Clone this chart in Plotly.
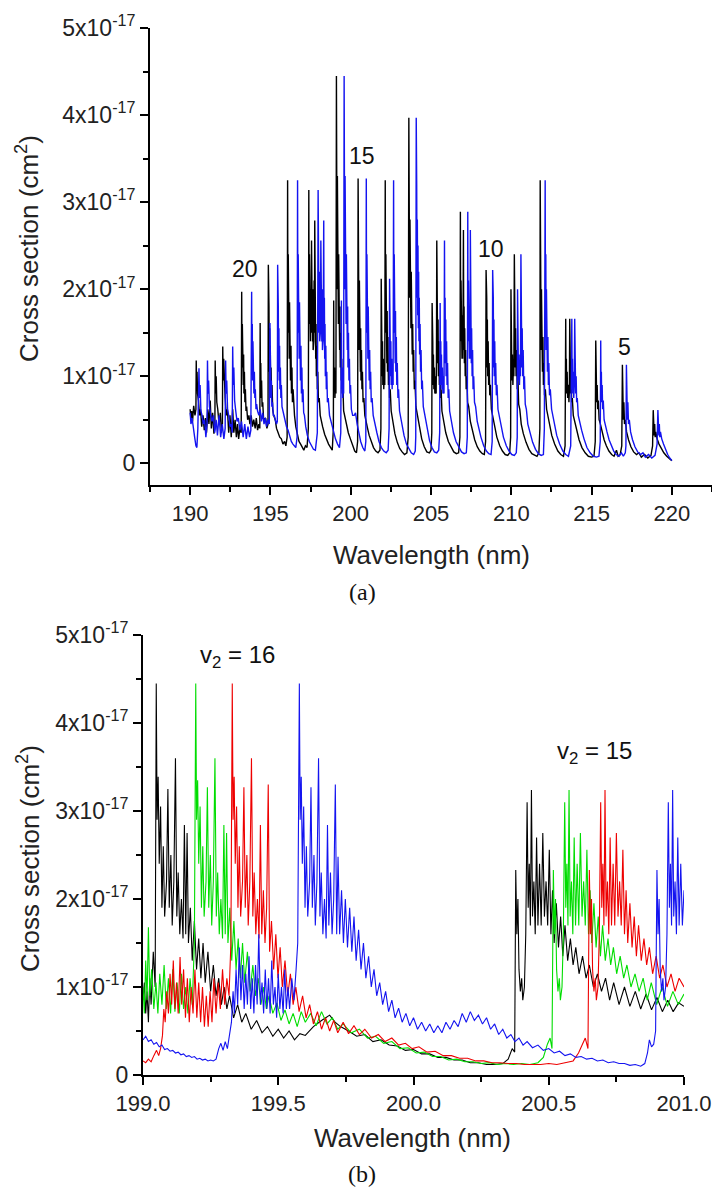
import plotly.graph_objects as go

# ---------------- data (cross section in units of 1e-17 cm^2) ----------------
UNIT = 1e-17

# Panel (a): black spectrum, (wavelength nm, cross section)
A_BLACK = [
    (190.00, 0.62), (190.05, 0.50), (190.10, 0.60), (190.15, 0.48), (190.22, 0.66), (190.30, 0.55),
    (190.36, 0.62), (190.38, 1.18), (190.40, 0.85), (190.43, 1.05), (190.46, 0.80), (190.52, 0.72),
    (190.58, 0.55), (190.65, 0.62), (190.72, 0.42), (190.80, 0.55), (190.88, 0.38), (190.95, 0.52),
    (191.02, 0.35), (191.10, 0.62), (191.17, 0.45), (191.25, 0.72), (191.32, 0.40), (191.40, 0.58),
    (191.48, 0.34), (191.54, 0.40), (191.56, 1.18), (191.59, 0.80), (191.62, 1.00), (191.66, 0.70),
    (191.72, 0.62), (191.80, 0.45), (191.88, 0.58), (191.95, 0.35), (192.01, 0.45), (192.03, 1.34),
    (192.06, 0.95), (192.09, 1.20), (192.13, 0.80), (192.18, 0.75), (192.25, 0.55), (192.32, 0.62),
    (192.40, 0.35), (192.48, 0.55), (192.56, 0.30), (192.65, 0.62), (192.72, 0.35), (192.80, 0.50),
    (192.88, 0.30), (192.95, 0.45), (193.02, 0.28), (193.10, 0.40), (193.18, 0.35),
    (193.21, 1.97), (193.23, 1.10), (193.25, 1.60), (193.27, 0.95), (193.29, 1.40), (193.31, 0.90),
    (193.33, 1.25), (193.35, 0.80), (193.38, 1.05), (193.41, 0.70), (193.44, 0.85), (193.48, 0.60),
    (193.52, 0.65), (193.58, 0.50), (193.66, 0.55), (193.72, 0.45), (193.80, 0.55), (193.88, 0.42),
    (193.96, 0.50), (194.05, 0.40), (194.12, 0.52), (194.20, 0.38), (194.28, 0.45), (194.34, 0.40),
    (194.36, 1.61), (194.38, 0.85), (194.40, 1.15), (194.42, 0.75), (194.45, 0.95), (194.48, 0.65),
    (194.52, 0.70), (194.57, 0.52), (194.62, 0.50), (194.70, 0.52), (194.78, 0.40), (194.85, 0.45),
    (194.87, 2.28), (194.89, 1.20), (194.91, 1.80), (194.93, 1.05), (194.95, 1.55), (194.97, 0.95),
    (194.99, 1.35), (195.01, 0.85), (195.04, 1.10), (195.07, 0.75), (195.10, 0.90), (195.14, 0.62),
    (195.20, 0.55), (195.30, 0.50), (195.38, 0.40), (195.48, 0.35), (195.58, 0.30), (195.68, 0.28),
    (195.78, 0.22), (195.88, 0.25), (195.96, 0.20), (196.04, 0.30),
    (196.07, 3.25), (196.09, 1.50), (196.11, 2.40), (196.13, 1.30), (196.15, 2.10), (196.17, 1.20),
    (196.19, 1.85), (196.21, 1.05), (196.23, 1.60), (196.25, 0.95), (196.28, 1.35), (196.31, 0.80),
    (196.34, 1.10), (196.37, 0.70), (196.41, 0.85), (196.45, 0.58), (196.50, 0.55), (196.58, 0.42),
    (196.68, 0.32), (196.78, 0.25), (196.88, 0.22), (196.98, 0.18), (197.08, 0.15), (197.18, 0.20),
    (197.28, 0.18), (197.36, 0.40),
    (197.39, 3.14), (197.41, 1.60), (197.43, 2.40), (197.45, 1.50), (197.47, 2.20), (197.49, 1.40),
    (197.51, 2.00), (197.53, 1.50), (197.56, 2.56), (197.58, 1.50), (197.60, 2.20), (197.62, 1.40),
    (197.64, 2.00), (197.66, 1.30), (197.68, 1.90), (197.70, 1.40), (197.72, 2.10), (197.74, 1.50),
    (197.76, 2.79), (197.78, 1.40), (197.80, 1.90), (197.82, 1.20), (197.84, 1.60), (197.86, 1.00),
    (197.89, 1.35), (197.92, 0.85), (197.95, 1.05), (197.99, 0.70), (198.04, 0.75), (198.10, 0.55),
    (198.15, 0.50), (198.25, 0.42), (198.38, 0.33), (198.50, 0.27), (198.62, 0.22), (198.75, 0.18),
    (198.85, 0.15), (198.92, 0.40),
    (198.94, 1.87), (198.96, 0.85), (198.99, 1.10), (199.02, 0.75), (199.05, 1.00), (199.08, 0.80),
    (199.11, 4.45), (199.12, 2.60), (199.13, 3.60), (199.15, 2.00), (199.17, 3.30), (199.19, 1.80),
    (199.21, 2.70), (199.23, 1.60), (199.25, 2.40), (199.27, 1.40), (199.29, 2.10), (199.31, 1.30),
    (199.33, 1.80), (199.35, 1.10), (199.38, 1.50), (199.41, 0.95), (199.44, 1.20), (199.47, 0.80),
    (199.51, 0.90), (199.56, 0.60), (199.62, 0.55), (199.72, 0.45), (199.85, 0.35), (199.98, 0.28),
    (200.12, 0.20), (200.25, 0.14), (200.36, 0.12), (200.43, 0.25),
    (200.46, 3.27), (200.48, 1.50), (200.50, 2.40), (200.52, 1.30), (200.54, 2.10), (200.56, 1.20),
    (200.58, 1.80), (200.60, 1.05), (200.62, 1.55), (200.64, 0.95), (200.67, 1.30), (200.70, 0.85),
    (200.73, 1.05), (200.77, 0.70), (200.82, 0.75), (200.88, 0.55), (200.95, 0.50), (201.05, 0.40),
    (201.15, 0.32), (201.28, 0.24), (201.42, 0.18), (201.56, 0.14), (201.70, 0.12), (201.82, 0.15),
    (201.88, 0.40),
    (201.90, 2.12), (201.92, 1.10), (201.94, 1.60), (201.96, 1.00), (201.98, 1.40), (202.00, 0.90),
    (202.03, 1.20), (202.06, 0.85), (202.09, 1.10), (202.12, 0.90), (202.15, 3.25), (202.17, 1.50),
    (202.19, 2.40), (202.21, 1.30), (202.23, 2.00), (202.25, 1.15), (202.27, 1.75), (202.29, 1.05),
    (202.32, 1.45), (202.35, 0.90), (202.38, 1.15), (202.42, 0.75), (202.46, 0.85), (202.52, 0.60),
    (202.62, 0.46), (202.75, 0.34), (202.90, 0.24), (203.05, 0.17), (203.20, 0.13), (203.35, 0.10),
    (203.50, 0.12), (203.58, 0.30),
    (203.62, 3.97), (203.63, 2.20), (203.65, 3.20), (203.67, 1.90), (203.69, 2.80), (203.71, 1.70),
    (203.73, 2.50), (203.75, 1.55), (203.77, 2.20), (203.79, 1.40), (203.81, 1.90), (203.83, 1.25),
    (203.86, 1.60), (203.89, 1.05), (203.92, 1.30), (203.96, 0.85), (204.00, 0.95), (204.06, 0.65),
    (204.15, 0.55), (204.28, 0.40), (204.42, 0.28), (204.58, 0.19), (204.74, 0.13), (204.90, 0.12),
    (205.00, 0.15), (205.05, 0.35),
    (205.07, 1.84), (205.09, 0.95), (205.11, 1.40), (205.13, 0.90), (205.15, 1.25), (205.18, 0.85),
    (205.21, 1.10), (205.24, 0.80), (205.28, 1.00), (205.32, 0.80), (205.34, 1.20), (205.36, 2.56),
    (205.38, 1.30), (205.40, 1.90), (205.42, 1.15), (205.44, 1.65), (205.46, 1.00), (205.49, 1.40),
    (205.52, 0.90), (205.55, 1.15), (205.59, 0.75), (205.63, 0.85), (205.68, 0.60), (205.78, 0.50),
    (205.92, 0.35), (206.08, 0.25), (206.25, 0.18), (206.42, 0.13), (206.58, 0.11), (206.72, 0.12),
    (206.80, 0.30),
    (206.83, 2.89), (206.85, 1.40), (206.87, 2.10), (206.89, 1.30), (206.91, 1.90), (206.93, 1.20),
    (206.95, 1.70), (206.97, 1.20), (207.00, 1.80), (207.02, 2.68), (207.04, 1.30), (207.06, 1.80),
    (207.08, 1.15), (207.10, 1.55), (207.13, 1.00), (207.16, 1.30), (207.19, 0.85), (207.23, 1.00),
    (207.28, 0.70), (207.35, 0.65), (207.45, 0.48), (207.58, 0.36), (207.72, 0.27), (207.88, 0.19),
    (208.04, 0.14), (208.20, 0.11), (208.32, 0.10), (208.40, 0.25),
    (208.43, 2.22), (208.45, 1.20), (208.47, 1.90), (208.49, 1.10), (208.51, 1.65), (208.53, 1.00),
    (208.56, 1.40), (208.59, 0.90), (208.62, 1.15), (208.66, 0.78), (208.70, 0.90), (208.76, 0.62),
    (208.84, 0.55), (208.95, 0.42), (209.10, 0.30), (209.28, 0.20), (209.45, 0.14), (209.62, 0.10),
    (209.78, 0.09), (209.90, 0.12), (209.96, 0.30),
    (209.98, 2.00), (210.00, 1.00), (210.02, 1.45), (210.04, 0.95), (210.07, 1.25), (210.10, 0.90),
    (210.13, 1.10), (210.16, 1.00), (210.19, 2.40), (210.21, 1.20), (210.23, 1.80), (210.25, 1.10),
    (210.27, 1.55), (210.30, 1.00), (210.33, 1.30), (210.37, 0.85), (210.41, 1.00), (210.46, 0.68),
    (210.53, 0.62), (210.62, 0.45), (210.75, 0.34), (210.92, 0.24), (211.10, 0.16), (211.28, 0.11),
    (211.45, 0.09), (211.60, 0.08), (211.72, 0.12), (211.78, 0.40),
    (211.80, 3.25), (211.82, 1.50), (211.84, 2.40), (211.86, 1.30), (211.88, 2.00), (211.90, 1.15),
    (211.92, 1.70), (211.94, 1.05), (211.97, 1.45), (212.00, 0.90), (212.03, 1.15), (212.07, 0.78),
    (212.12, 0.85), (212.20, 0.62), (212.35, 0.46), (212.52, 0.32), (212.70, 0.22), (212.90, 0.14),
    (213.08, 0.10), (213.25, 0.08), (213.35, 0.20),
    (213.39, 1.66), (213.41, 0.85), (213.43, 1.20), (213.45, 0.80), (213.48, 1.05), (213.51, 0.75),
    (213.55, 0.90), (213.59, 0.70), (213.62, 0.85), (213.64, 1.66), (213.66, 0.85), (213.68, 1.20),
    (213.70, 0.80), (213.73, 1.00), (213.76, 0.70), (213.80, 0.75), (213.86, 0.55), (213.94, 0.48),
    (214.05, 0.38), (214.22, 0.27), (214.40, 0.18), (214.60, 0.12), (214.80, 0.08), (215.00, 0.07),
    (215.15, 0.08), (215.23, 0.25),
    (215.26, 1.41), (215.28, 0.75), (215.30, 1.05), (215.32, 0.70), (215.35, 0.90), (215.38, 0.62),
    (215.42, 0.72), (215.47, 0.50), (215.55, 0.45), (215.65, 0.36), (215.78, 0.27), (215.92, 0.20),
    (216.08, 0.14), (216.25, 0.10), (216.40, 0.08), (216.55, 0.15), (216.65, 0.08), (216.78, 0.10),
    (216.88, 0.20),
    (216.92, 1.13), (216.94, 0.55), (216.96, 0.85), (216.98, 0.50), (217.01, 0.70), (217.05, 0.45),
    (217.10, 0.50), (217.18, 0.36), (217.30, 0.27), (217.45, 0.19), (217.62, 0.13), (217.80, 0.10),
    (217.95, 0.12), (218.10, 0.07), (218.30, 0.10), (218.50, 0.06), (218.70, 0.09), (218.80, 0.20),
    (218.84, 0.61), (218.86, 0.35), (218.88, 0.52), (218.90, 0.32), (218.93, 0.45), (218.96, 0.30),
    (219.00, 0.36), (219.08, 0.28), (219.20, 0.22), (219.35, 0.16), (219.50, 0.12), (219.68, 0.08),
    (219.85, 0.05), (220.00, 0.03),
]

# Panel (a): blue spectrum
A_BLUE = [
    (190.00, 0.58), (190.05, 0.45), (190.12, 0.52), (190.20, 0.38), (190.28, 0.30), (190.36, 0.20),
    (190.42, 0.18), (190.48, 0.40), (190.55, 1.09), (190.58, 0.75), (190.62, 0.90), (190.67, 0.60),
    (190.74, 0.55), (190.82, 0.45), (190.90, 0.50), (190.98, 0.30), (191.05, 0.45), (191.08, 1.18),
    (191.11, 0.80), (191.15, 0.95), (191.20, 0.65), (191.28, 0.55), (191.36, 0.48), (191.45, 0.55),
    (191.53, 0.35), (191.62, 0.50), (191.70, 0.32), (191.80, 0.55), (191.90, 0.30), (192.00, 0.45),
    (192.10, 0.28), (192.18, 0.40), (192.21, 1.18), (192.24, 0.80), (192.28, 0.95), (192.33, 0.62),
    (192.40, 0.55), (192.48, 0.42), (192.56, 0.45), (192.62, 0.35), (192.65, 1.34), (192.68, 0.90),
    (192.72, 1.10), (192.77, 0.72), (192.84, 0.60), (192.92, 0.48), (193.00, 0.52), (193.10, 0.38),
    (193.20, 0.48), (193.30, 0.30), (193.40, 0.45), (193.50, 0.28), (193.60, 0.42), (193.70, 0.30),
    (193.78, 0.38),
    (193.83, 1.97), (193.85, 1.10), (193.87, 1.60), (193.89, 0.95), (193.91, 1.40), (193.93, 0.90),
    (193.95, 1.25), (193.97, 0.80), (194.00, 1.05), (194.03, 0.75), (194.06, 0.85), (194.10, 0.62),
    (194.14, 0.68), (194.20, 0.60), (194.28, 0.55), (194.36, 0.62), (194.44, 0.48), (194.52, 0.58),
    (194.60, 0.45), (194.68, 0.52), (194.76, 0.42), (194.85, 0.50), (194.93, 0.45),
    (194.97, 1.61), (194.99, 0.85), (195.01, 1.15), (195.03, 0.75), (195.06, 0.95), (195.09, 0.65),
    (195.13, 0.70), (195.18, 0.55), (195.24, 0.55), (195.30, 0.50), (195.38, 0.45), (195.43, 0.48),
    (195.45, 2.28), (195.47, 1.20), (195.49, 1.80), (195.51, 1.05), (195.53, 1.55), (195.55, 0.95),
    (195.57, 1.35), (195.59, 0.85), (195.62, 1.10), (195.65, 0.75), (195.68, 0.90), (195.72, 0.65),
    (195.80, 0.58), (195.90, 0.50), (196.00, 0.42), (196.10, 0.38), (196.20, 0.30), (196.30, 0.25),
    (196.40, 0.22), (196.50, 0.20), (196.58, 0.18), (196.66, 0.30),
    (196.69, 3.25), (196.71, 1.50), (196.73, 2.40), (196.75, 1.30), (196.77, 2.10), (196.79, 1.20),
    (196.81, 1.85), (196.83, 1.05), (196.85, 1.60), (196.87, 0.95), (196.90, 1.35), (196.93, 0.80),
    (196.96, 1.10), (196.99, 0.70), (197.03, 0.85), (197.07, 0.58), (197.12, 0.55), (197.20, 0.42),
    (197.30, 0.32), (197.42, 0.25), (197.55, 0.20), (197.68, 0.16), (197.80, 0.15), (197.92, 0.35),
    (197.97, 3.14), (197.99, 1.60), (198.01, 2.40), (198.03, 1.50), (198.05, 2.20), (198.07, 1.40),
    (198.09, 2.00), (198.11, 1.50), (198.14, 2.56), (198.16, 1.50), (198.18, 2.20), (198.20, 1.40),
    (198.22, 2.00), (198.24, 1.30), (198.26, 1.90), (198.28, 1.40), (198.30, 2.10), (198.32, 2.79),
    (198.34, 1.40), (198.36, 1.90), (198.38, 1.20), (198.40, 1.60), (198.42, 1.00), (198.45, 1.35),
    (198.48, 0.85), (198.51, 1.05), (198.55, 0.70), (198.60, 0.75), (198.68, 0.55), (198.80, 0.45),
    (198.92, 0.35), (199.05, 0.28), (199.18, 0.22), (199.30, 0.18), (199.38, 0.35),
    (199.42, 1.87), (199.44, 0.85), (199.47, 1.10), (199.50, 0.75), (199.53, 1.00), (199.56, 0.80),
    (199.59, 4.45), (199.60, 2.60), (199.61, 3.60), (199.63, 2.00), (199.65, 3.30), (199.67, 1.80),
    (199.69, 2.70), (199.71, 1.60), (199.73, 2.40), (199.75, 1.40), (199.77, 2.10), (199.79, 1.30),
    (199.81, 1.80), (199.83, 1.10), (199.86, 1.50), (199.89, 0.95), (199.92, 1.20), (199.95, 0.80),
    (199.99, 0.90), (200.04, 0.62), (200.12, 0.55), (200.22, 0.55), (200.30, 0.58), (200.40, 0.45),
    (200.50, 0.35), (200.62, 0.25), (200.75, 0.18), (200.88, 0.14), (200.94, 0.25),
    (200.97, 3.27), (200.99, 1.50), (201.01, 2.40), (201.03, 1.30), (201.05, 2.10), (201.07, 1.20),
    (201.09, 1.80), (201.11, 1.05), (201.13, 1.55), (201.15, 0.95), (201.18, 1.30), (201.21, 0.85),
    (201.24, 1.05), (201.28, 0.70), (201.33, 0.75), (201.40, 0.55), (201.50, 0.45), (201.63, 0.35),
    (201.76, 0.25), (201.91, 0.18), (202.06, 0.14), (202.21, 0.12), (202.33, 0.15), (202.39, 0.40),
    (202.42, 2.12), (202.44, 1.10), (202.46, 1.60), (202.48, 1.00), (202.50, 1.40), (202.52, 0.90),
    (202.55, 1.20), (202.58, 0.85), (202.61, 1.10), (202.64, 0.90), (202.67, 3.25), (202.69, 1.50),
    (202.71, 2.40), (202.73, 1.30), (202.75, 2.00), (202.77, 1.15), (202.79, 1.75), (202.81, 1.05),
    (202.84, 1.45), (202.87, 0.90), (202.90, 1.15), (202.94, 0.75), (202.98, 0.85), (203.04, 0.60),
    (203.17, 0.45), (203.32, 0.32), (203.47, 0.22), (203.62, 0.16), (203.77, 0.12), (203.92, 0.10),
    (204.02, 0.14), (204.05, 0.30),
    (204.08, 3.97), (204.09, 2.20), (204.11, 3.20), (204.13, 1.90), (204.15, 2.80), (204.17, 1.70),
    (204.19, 2.50), (204.21, 1.55), (204.23, 2.20), (204.25, 1.40), (204.27, 1.90), (204.29, 1.25),
    (204.32, 1.60), (204.35, 1.05), (204.38, 1.30), (204.42, 0.85), (204.46, 0.95), (204.52, 0.65),
    (204.61, 0.55), (204.76, 0.38), (204.91, 0.26), (205.06, 0.18), (205.21, 0.13), (205.36, 0.12),
    (205.48, 0.15), (205.54, 0.35),
    (205.57, 1.84), (205.59, 0.95), (205.61, 1.40), (205.63, 0.90), (205.65, 1.25), (205.68, 0.85),
    (205.71, 1.10), (205.74, 0.80), (205.78, 1.00), (205.81, 0.80), (205.82, 1.20), (205.84, 2.56),
    (205.86, 1.30), (205.88, 1.90), (205.90, 1.15), (205.92, 1.65), (205.94, 1.00), (205.97, 1.40),
    (206.00, 0.90), (206.03, 1.15), (206.07, 0.75), (206.11, 0.85), (206.16, 0.60), (206.26, 0.50),
    (206.40, 0.35), (206.56, 0.25), (206.73, 0.18), (206.90, 0.13), (207.06, 0.11), (207.20, 0.12),
    (207.26, 0.30),
    (207.29, 2.89), (207.31, 1.40), (207.33, 2.10), (207.35, 1.30), (207.37, 1.90), (207.39, 1.20),
    (207.41, 1.70), (207.43, 1.20), (207.45, 2.68), (207.47, 1.30), (207.49, 1.80), (207.51, 1.15),
    (207.53, 1.55), (207.56, 1.00), (207.59, 1.30), (207.62, 0.85), (207.66, 1.00), (207.71, 0.70),
    (207.78, 0.65), (207.88, 0.48), (207.98, 0.40), (208.11, 0.30), (208.28, 0.20), (208.45, 0.14),
    (208.60, 0.11), (208.74, 0.10), (208.81, 0.25),
    (208.84, 2.22), (208.86, 1.20), (208.88, 1.90), (208.90, 1.10), (208.92, 1.65), (208.94, 1.00),
    (208.97, 1.40), (209.00, 0.90), (209.03, 1.15), (209.07, 0.78), (209.11, 0.90), (209.17, 0.62),
    (209.25, 0.55), (209.36, 0.45), (209.51, 0.30), (209.69, 0.20), (209.86, 0.14), (210.03, 0.10),
    (210.19, 0.09), (210.31, 0.12), (210.37, 0.30),
    (210.39, 2.00), (210.41, 1.00), (210.43, 1.45), (210.45, 0.95), (210.48, 1.25), (210.51, 0.90),
    (210.54, 1.10), (210.57, 1.00), (210.60, 2.40), (210.62, 1.20), (210.64, 1.80), (210.66, 1.10),
    (210.68, 1.55), (210.71, 1.00), (210.74, 1.30), (210.78, 0.85), (210.82, 1.00), (210.87, 0.68),
    (210.94, 0.62), (211.03, 0.45), (211.16, 0.35), (211.33, 0.24), (211.51, 0.16), (211.69, 0.11),
    (211.86, 0.09), (212.00, 0.10), (212.06, 0.40),
    (212.11, 3.25), (212.13, 1.50), (212.15, 2.40), (212.17, 1.30), (212.19, 2.00), (212.21, 1.15),
    (212.23, 1.70), (212.25, 1.05), (212.28, 1.45), (212.31, 0.90), (212.34, 1.15), (212.38, 0.78),
    (212.43, 0.85), (212.51, 0.62), (212.66, 0.46), (212.83, 0.32), (213.01, 0.22), (213.21, 0.14),
    (213.39, 0.10), (213.56, 0.08), (213.70, 0.20),
    (213.77, 1.66), (213.79, 0.85), (213.81, 1.20), (213.83, 0.80), (213.86, 1.05), (213.89, 0.75),
    (213.92, 0.90), (213.95, 1.66), (213.97, 0.85), (213.99, 1.20), (214.01, 0.80), (214.04, 1.00),
    (214.07, 0.70), (214.11, 0.75), (214.17, 0.55), (214.25, 0.48), (214.38, 0.38), (214.53, 0.28),
    (214.71, 0.18), (214.91, 0.12), (215.11, 0.08), (215.31, 0.07), (215.46, 0.08), (215.54, 0.25),
    (215.57, 1.41), (215.59, 0.75), (215.61, 1.05), (215.63, 0.70), (215.66, 0.90), (215.69, 0.62),
    (215.73, 0.72), (215.78, 0.50), (215.86, 0.45), (215.96, 0.36), (216.09, 0.27), (216.23, 0.20),
    (216.38, 0.14), (216.53, 0.10), (216.71, 0.08), (216.86, 0.12), (216.98, 0.08), (217.10, 0.12),
    (217.14, 0.20),
    (217.17, 1.13), (217.19, 0.55), (217.21, 0.85), (217.23, 0.50), (217.26, 0.70), (217.30, 0.45),
    (217.35, 0.50), (217.43, 0.36), (217.55, 0.27), (217.70, 0.19), (217.87, 0.13), (218.05, 0.10),
    (218.20, 0.12), (218.35, 0.07), (218.55, 0.10), (218.75, 0.06), (218.95, 0.09), (219.08, 0.22),
    (219.13, 0.61), (219.15, 0.35), (219.17, 0.52), (219.19, 0.32), (219.22, 0.45), (219.25, 0.30),
    (219.29, 0.36), (219.37, 0.28), (219.48, 0.22), (219.60, 0.16), (219.74, 0.10), (219.87, 0.06),
    (220.00, 0.03),
]

# Panel (b): four spectra, 199-201 nm
B_BLACK = [
    (199.000, 0.85), (199.005, 1.05), (199.010, 0.70), (199.015, 0.95), (199.020, 0.60), (199.025, 1.10),
    (199.030, 0.80), (199.038, 1.40), (199.045, 1.00), (199.049, 4.45), (199.052, 2.90), (199.056, 3.39),
    (199.060, 2.40), (199.065, 3.05), (199.070, 1.90), (199.075, 2.60), (199.080, 1.80), (199.087, 2.20),
    (199.092, 3.25), (199.097, 1.90), (199.103, 2.50), (199.108, 1.70), (199.114, 2.20), (199.120, 3.60),
    (199.125, 1.80), (199.130, 2.30), (199.136, 1.60), (199.142, 2.00), (199.148, 1.55), (199.153, 2.84),
    (199.158, 1.60), (199.163, 2.75), (199.168, 1.50), (199.175, 1.90), (199.182, 1.30), (199.190, 1.75),
    (199.198, 1.20), (199.206, 1.55), (199.214, 1.10), (199.222, 1.50), (199.230, 1.05), (199.240, 1.40),
    (199.250, 0.95), (199.260, 1.25), (199.270, 0.90), (199.280, 1.10), (199.290, 0.80), (199.300, 1.00),
    (199.310, 0.75), (199.320, 0.90), (199.335, 0.65), (199.350, 0.80), (199.365, 0.60), (199.380, 0.70),
    (199.400, 0.52), (199.420, 0.62), (199.440, 0.48), (199.460, 0.55), (199.480, 0.44), (199.500, 0.52),
    (199.520, 0.42), (199.540, 0.50), (199.560, 0.40), (199.580, 0.47), (199.600, 0.45), (199.630, 0.55),
    (199.660, 0.62), (199.690, 0.68), (199.710, 0.60), (199.730, 0.55), (199.760, 0.50), (199.790, 0.44),
    (199.820, 0.46), (199.850, 0.38), (199.880, 0.40), (199.910, 0.34), (199.940, 0.33), (199.970, 0.28),
    (200.000, 0.29), (200.030, 0.24), (200.060, 0.24), (200.090, 0.20), (200.120, 0.20), (200.150, 0.17),
    (200.180, 0.17), (200.210, 0.14), (200.240, 0.14), (200.270, 0.12), (200.300, 0.12), (200.330, 0.13),
    (200.350, 0.18), (200.365, 0.30), (200.374, 0.26), (200.378, 2.33), (200.382, 1.60), (200.386, 2.00),
    (200.390, 1.20), (200.395, 0.95), (200.400, 1.10), (200.404, 0.85), (200.410, 1.00), (200.415, 1.60),
    (200.420, 3.10), (200.424, 1.90), (200.428, 2.40), (200.432, 1.70), (200.436, 3.24), (200.440, 1.80),
    (200.445, 2.20), (200.450, 1.60), (200.455, 2.70), (200.460, 1.70), (200.466, 2.40), (200.472, 1.70),
    (200.478, 2.75), (200.484, 1.80), (200.490, 2.20), (200.496, 1.70), (200.502, 2.56), (200.508, 1.60),
    (200.514, 2.10), (200.520, 1.50), (200.528, 1.95), (200.536, 1.45), (200.544, 1.80), (200.552, 1.35),
    (200.560, 1.70), (200.570, 1.30), (200.580, 1.55), (200.590, 1.25), (200.600, 1.45), (200.612, 1.15),
    (200.625, 1.35), (200.638, 1.10), (200.650, 1.25), (200.665, 1.00), (200.680, 1.15), (200.695, 0.95),
    (200.710, 1.10), (200.725, 0.85), (200.740, 1.05), (200.760, 0.80), (200.780, 1.00), (200.800, 0.78),
    (200.820, 0.95), (200.840, 0.75), (200.860, 0.92), (200.880, 0.74), (200.900, 0.88), (200.920, 0.72),
    (200.940, 0.85), (200.960, 0.72), (200.980, 0.82), (201.000, 0.78),
]

B_GREEN = [
    (199.000, 1.00), (199.005, 0.70), (199.010, 1.30), (199.015, 0.85), (199.020, 1.68), (199.025, 0.90),
    (199.032, 1.20), (199.040, 0.75), (199.048, 1.05), (199.055, 0.70), (199.062, 1.15), (199.070, 0.80),
    (199.078, 1.25), (199.086, 0.75), (199.094, 1.10), (199.102, 0.70), (199.110, 1.20), (199.118, 0.72),
    (199.126, 1.05), (199.134, 0.70), (199.142, 1.15), (199.150, 0.75), (199.158, 1.00), (199.166, 0.70),
    (199.174, 1.10), (199.182, 0.80), (199.190, 1.50), (199.195, 4.45), (199.198, 2.90), (199.202, 3.35),
    (199.206, 2.40), (199.211, 3.05), (199.216, 1.90), (199.221, 2.60), (199.226, 1.80), (199.233, 2.20),
    (199.238, 3.27), (199.243, 1.90), (199.249, 2.50), (199.254, 1.70), (199.260, 2.20), (199.266, 3.60),
    (199.271, 1.80), (199.276, 2.30), (199.282, 1.60), (199.288, 2.00), (199.294, 1.55), (199.299, 2.84),
    (199.304, 1.60), (199.309, 2.75), (199.314, 1.50), (199.321, 1.90), (199.328, 1.30), (199.336, 1.75),
    (199.344, 1.20), (199.352, 1.55), (199.360, 1.10), (199.368, 1.50), (199.376, 1.05), (199.386, 1.40),
    (199.396, 0.95), (199.406, 1.25), (199.416, 0.90), (199.426, 1.10), (199.436, 0.80), (199.446, 1.00),
    (199.456, 0.75), (199.466, 0.90), (199.480, 0.70), (199.495, 0.82), (199.510, 0.62), (199.525, 0.74),
    (199.540, 0.58), (199.555, 0.70), (199.570, 0.55), (199.585, 0.72), (199.600, 0.60), (199.620, 0.70),
    (199.640, 0.56), (199.660, 0.72), (199.680, 0.58), (199.700, 0.65), (199.720, 0.52), (199.740, 0.58),
    (199.770, 0.48), (199.800, 0.52), (199.830, 0.42), (199.860, 0.44), (199.890, 0.36), (199.920, 0.38),
    (199.950, 0.30), (199.980, 0.31), (200.010, 0.25), (200.040, 0.26), (200.070, 0.21), (200.100, 0.21),
    (200.130, 0.17), (200.160, 0.18), (200.190, 0.15), (200.220, 0.15), (200.250, 0.13), (200.280, 0.14),
    (200.310, 0.12), (200.340, 0.13), (200.370, 0.12), (200.400, 0.13), (200.430, 0.12), (200.460, 0.14),
    (200.480, 0.20), (200.495, 0.35), (200.505, 0.42), (200.512, 0.30), (200.517, 2.33), (200.521, 1.60),
    (200.525, 2.00), (200.529, 1.20), (200.534, 0.95), (200.539, 1.10), (200.543, 0.85), (200.549, 1.00),
    (200.554, 1.60), (200.559, 3.10), (200.563, 1.90), (200.567, 2.40), (200.571, 1.70), (200.575, 3.24),
    (200.579, 1.80), (200.584, 2.20), (200.589, 1.60), (200.594, 2.70), (200.599, 1.70), (200.605, 2.40),
    (200.611, 1.70), (200.617, 2.75), (200.623, 1.80), (200.629, 2.20), (200.635, 1.70), (200.641, 2.56),
    (200.647, 1.60), (200.653, 2.10), (200.659, 1.50), (200.667, 1.95), (200.675, 1.45), (200.683, 1.80),
    (200.691, 1.35), (200.699, 1.70), (200.709, 1.30), (200.719, 1.55), (200.729, 1.25), (200.739, 1.45),
    (200.751, 1.15), (200.764, 1.35), (200.777, 1.10), (200.789, 1.25), (200.804, 1.00), (200.819, 1.15),
    (200.834, 0.95), (200.849, 1.10), (200.864, 0.85), (200.879, 1.05), (200.899, 0.80), (200.919, 1.00),
    (200.939, 0.78), (200.959, 0.95), (200.979, 0.80), (201.000, 0.92),
]

B_RED = [
    (199.000, 0.16), (199.010, 0.14), (199.020, 0.18), (199.030, 0.15), (199.040, 0.22), (199.050, 0.28),
    (199.058, 0.22), (199.065, 0.30), (199.072, 0.45), (199.077, 0.75), (199.082, 0.60), (199.088, 0.95),
    (199.094, 0.70), (199.100, 1.15), (199.106, 0.80), (199.112, 1.30), (199.118, 0.75), (199.124, 1.05),
    (199.130, 0.70), (199.137, 1.34), (199.143, 0.80), (199.150, 1.20), (199.157, 0.65), (199.164, 1.10),
    (199.171, 0.60), (199.178, 1.00), (199.185, 0.70), (199.192, 1.20), (199.199, 0.65), (199.206, 1.05),
    (199.213, 0.60), (199.220, 1.00), (199.227, 0.55), (199.234, 0.90), (199.241, 0.55), (199.248, 0.95),
    (199.255, 0.60), (199.262, 1.10), (199.270, 0.70), (199.278, 1.05), (199.286, 0.75), (199.294, 1.20),
    (199.302, 0.80), (199.310, 1.10), (199.318, 0.90), (199.325, 1.50), (199.330, 4.45), (199.333, 2.90),
    (199.337, 3.39), (199.341, 2.40), (199.346, 3.05), (199.351, 1.90), (199.356, 2.60), (199.361, 1.80),
    (199.368, 2.20), (199.373, 3.27), (199.378, 1.90), (199.384, 2.50), (199.389, 1.70), (199.395, 2.20),
    (199.401, 3.60), (199.406, 1.80), (199.411, 2.30), (199.417, 1.60), (199.423, 2.00), (199.429, 1.55),
    (199.434, 2.84), (199.439, 1.60), (199.445, 2.10), (199.451, 1.50), (199.457, 1.90), (199.463, 3.30),
    (199.468, 1.40), (199.475, 1.75), (199.483, 1.20), (199.491, 1.60), (199.499, 1.10), (199.507, 1.45),
    (199.515, 1.00), (199.525, 1.30), (199.535, 0.90), (199.545, 1.15), (199.555, 0.80), (199.565, 1.00),
    (199.577, 0.72), (199.590, 0.90), (199.603, 0.65), (199.616, 0.80), (199.630, 0.58), (199.645, 0.72),
    (199.660, 0.52), (199.675, 0.65), (199.690, 0.50), (199.705, 0.62), (199.720, 0.48), (199.740, 0.60),
    (199.760, 0.47), (199.780, 0.56), (199.800, 0.46), (199.820, 0.52), (199.845, 0.42), (199.870, 0.46),
    (199.895, 0.38), (199.920, 0.42), (199.945, 0.34), (199.970, 0.36), (199.995, 0.30), (200.020, 0.32),
    (200.050, 0.26), (200.080, 0.27), (200.110, 0.22), (200.140, 0.22), (200.170, 0.19), (200.200, 0.19),
    (200.230, 0.16), (200.260, 0.16), (200.290, 0.14), (200.320, 0.14), (200.350, 0.13), (200.380, 0.13),
    (200.410, 0.12), (200.440, 0.12), (200.470, 0.12), (200.500, 0.13), (200.530, 0.12), (200.560, 0.14),
    (200.590, 0.16), (200.610, 0.25), (200.625, 0.35), (200.635, 0.42), (200.645, 0.30), (200.650, 2.33),
    (200.654, 1.60), (200.658, 2.00), (200.662, 1.20), (200.667, 0.95), (200.672, 1.10), (200.676, 0.85),
    (200.682, 1.00), (200.687, 1.60), (200.692, 3.10), (200.696, 1.90), (200.700, 2.40), (200.704, 1.70),
    (200.708, 3.24), (200.712, 1.80), (200.717, 2.20), (200.722, 1.60), (200.727, 2.70), (200.732, 1.70),
    (200.738, 2.40), (200.744, 1.70), (200.750, 2.75), (200.756, 1.80), (200.762, 2.20), (200.768, 1.70),
    (200.774, 2.56), (200.780, 1.60), (200.786, 2.10), (200.792, 1.50), (200.800, 1.95), (200.808, 1.45),
    (200.816, 1.80), (200.824, 1.35), (200.832, 1.70), (200.842, 1.30), (200.852, 1.55), (200.862, 1.25),
    (200.872, 1.45), (200.884, 1.15), (200.897, 1.35), (200.910, 1.10), (200.922, 1.25), (200.937, 1.00),
    (200.952, 1.15), (200.967, 0.95), (200.982, 1.10), (201.000, 1.00),
]

B_BLUE = [
    (199.000, 0.40), (199.010, 0.44), (199.020, 0.38), (199.030, 0.40), (199.040, 0.35), (199.050, 0.37),
    (199.060, 0.32), (199.070, 0.34), (199.080, 0.29), (199.090, 0.30), (199.100, 0.27), (199.110, 0.28),
    (199.120, 0.25), (199.130, 0.26), (199.140, 0.23), (199.150, 0.24), (199.160, 0.21), (199.170, 0.22),
    (199.180, 0.20), (199.190, 0.21), (199.200, 0.18), (199.210, 0.19), (199.220, 0.17), (199.230, 0.18),
    (199.240, 0.16), (199.250, 0.17), (199.260, 0.16), (199.270, 0.18), (199.280, 0.30), (199.288, 0.36),
    (199.296, 0.28), (199.304, 0.38), (199.312, 0.30), (199.320, 0.45), (199.327, 0.60), (199.333, 0.95),
    (199.338, 0.70), (199.344, 1.20), (199.350, 0.80), (199.356, 1.45), (199.362, 0.85), (199.368, 1.25),
    (199.374, 0.75), (199.380, 1.15), (199.386, 0.80), (199.392, 1.35), (199.398, 0.75), (199.404, 1.10),
    (199.410, 0.70), (199.416, 1.25), (199.422, 0.80), (199.428, 1.60), (199.434, 0.80), (199.440, 1.05),
    (199.446, 0.70), (199.452, 1.20), (199.458, 0.75), (199.464, 1.10), (199.470, 0.70), (199.476, 1.30),
    (199.482, 0.80), (199.488, 1.00), (199.494, 0.65), (199.500, 1.15), (199.506, 0.75), (199.512, 1.00),
    (199.518, 0.70), (199.524, 1.20), (199.530, 0.75), (199.536, 1.00), (199.542, 0.75), (199.550, 1.10),
    (199.558, 0.85), (199.566, 1.20), (199.572, 1.50), (199.578, 4.45), (199.581, 2.90), (199.585, 3.39),
    (199.589, 2.40), (199.594, 3.05), (199.599, 1.90), (199.604, 2.60), (199.609, 1.80), (199.616, 2.20),
    (199.621, 3.27), (199.626, 1.90), (199.632, 2.50), (199.637, 1.70), (199.643, 2.20), (199.649, 3.60),
    (199.654, 1.80), (199.659, 2.30), (199.665, 1.60), (199.671, 2.00), (199.677, 1.55), (199.682, 2.84),
    (199.687, 1.70), (199.693, 2.30), (199.699, 1.60), (199.705, 2.00), (199.711, 3.30), (199.716, 1.60),
    (199.721, 2.48), (199.727, 1.60), (199.734, 2.10), (199.741, 1.50), (199.748, 2.00), (199.756, 1.45),
    (199.764, 1.90), (199.772, 1.40), (199.780, 1.80), (199.788, 1.30), (199.797, 1.65), (199.806, 1.20),
    (199.815, 1.50), (199.824, 1.10), (199.834, 1.35), (199.844, 1.00), (199.854, 1.20), (199.864, 0.90),
    (199.875, 1.05), (199.886, 0.80), (199.897, 0.95), (199.908, 0.72), (199.920, 0.85), (199.932, 0.65),
    (199.945, 0.76), (199.958, 0.60), (199.972, 0.70), (199.986, 0.56), (200.000, 0.65), (200.015, 0.52),
    (200.030, 0.60), (200.045, 0.50), (200.060, 0.58), (200.075, 0.48), (200.090, 0.56), (200.105, 0.48),
    (200.120, 0.60), (200.135, 0.52), (200.150, 0.62), (200.165, 0.55), (200.180, 0.70), (200.195, 0.60),
    (200.210, 0.72), (200.225, 0.62), (200.240, 0.68), (200.255, 0.58), (200.270, 0.65), (200.285, 0.52),
    (200.300, 0.58), (200.315, 0.46), (200.330, 0.52), (200.345, 0.42), (200.360, 0.46), (200.375, 0.38),
    (200.390, 0.42), (200.405, 0.34), (200.420, 0.38), (200.440, 0.31), (200.460, 0.34), (200.480, 0.28),
    (200.500, 0.30), (200.520, 0.25), (200.540, 0.27), (200.560, 0.22), (200.580, 0.24), (200.600, 0.20),
    (200.620, 0.21), (200.640, 0.18), (200.660, 0.19), (200.680, 0.16), (200.700, 0.17), (200.720, 0.14),
    (200.740, 0.15), (200.760, 0.13), (200.780, 0.13), (200.800, 0.11), (200.820, 0.12), (200.840, 0.10),
    (200.855, 0.13), (200.865, 0.25), (200.872, 0.40), (200.880, 0.32), (200.888, 0.35), (200.895, 0.50),
    (200.900, 2.33), (200.904, 1.60), (200.908, 2.00), (200.912, 1.20), (200.917, 0.95), (200.922, 1.10),
    (200.926, 0.85), (200.932, 1.00), (200.937, 1.60), (200.942, 3.10), (200.946, 1.90), (200.950, 2.40),
    (200.954, 1.70), (200.958, 3.24), (200.962, 1.80), (200.967, 2.20), (200.972, 1.60), (200.977, 2.70),
    (200.982, 1.70), (200.988, 2.40), (200.994, 1.70), (201.000, 2.10),
]

A_X_TICKS = [190, 195, 200, 205, 210, 215, 220]
Y_TICKS = [0, 1, 2, 3, 4, 5]
Y_TICK_TEXT = ["0", "1x10<sup>-17</sup>", "2x10<sup>-17</sup>", "3x10<sup>-17</sup>",
               "4x10<sup>-17</sup>", "5x10<sup>-17</sup>"]
B_X_TICKS = [199.0, 199.5, 200.0, 200.5, 201.0]
B_X_TICK_TEXT = ["199.0", "199.5", "200.0", "200.5", "201.0"]

# band labels: (text, wavelength, cross section)
A_LABELS = [("20", 193.42, 2.23), ("15", 200.68, 3.53), ("10", 208.76, 2.46), ("5", 217.02, 1.33)]
B_LABELS = [("v<sub>2</sub> = 16", 199.35, 4.76), ("v<sub>2</sub> = 15", 200.67, 3.66)]

# ---------------- figure ----------------
W, H = 712, 1188
SANS = "Liberation Sans, Arial, sans-serif"
SERIF = "Liberation Serif, Times New Roman, serif"

fig = go.Figure()


def add_series(data, color, xa, ya, width):
    xs = [p[0] for p in data]
    ys = [p[1] * UNIT for p in data]
    fig.add_trace(go.Scatter(x=xs, y=ys, mode="lines", xaxis=xa, yaxis=ya,
                             line=dict(color=color, width=width), showlegend=False,
                             hoverinfo="skip"))


add_series(A_BLACK, "#000000", "x", "y", 1.4)
add_series(A_BLUE, "#1414f0", "x", "y", 1.4)
add_series(B_BLACK, "#000000", "x2", "y2", 1.1)
add_series(B_GREEN, "#00dd00", "x2", "y2", 1.1)
add_series(B_RED, "#ee0000", "x2", "y2", 1.1)
add_series(B_BLUE, "#1414f0", "x2", "y2", 1.1)

axis_common = dict(showline=True, linecolor="black", linewidth=2, ticks="outside",
                   ticklen=8, tickwidth=2, tickcolor="black", showgrid=False,
                   zeroline=False, automargin=False)
XFONT = dict(family=SANS, size=22, color="#222")
YFONT = dict(family=SANS, size=23, color="#222")
minor_style = dict(ticks="outside", ticklen=5, tickwidth=2, tickcolor="black")

fig.update_layout(
    width=W, height=H, margin=dict(l=0, r=0, t=0, b=0, autoexpand=False),
    paper_bgcolor="white", plot_bgcolor="white",
    xaxis=dict(domain=[150 / W, 1.0], range=[187.5, 222.5], anchor="y",
               tickmode="array", tickvals=A_X_TICKS, tickfont=XFONT,
               minor=dict(tickmode="linear", tick0=187.5, dtick=2.5, **minor_style),
               **axis_common),
    yaxis=dict(domain=[1 - 485 / H, 1 - 28 / H], range=[-0.25 * UNIT, 5 * UNIT], anchor="x",
               tickmode="array", tickvals=[v * UNIT for v in Y_TICKS], ticktext=Y_TICK_TEXT,
               tickfont=YFONT,
               minor=dict(tickmode="linear", tick0=0, dtick=0.5 * UNIT, **minor_style),
               **axis_common),
    xaxis2=dict(domain=[143 / W, 684 / W], range=[199.0, 201.0], anchor="y2",
                tickmode="array", tickvals=B_X_TICKS, ticktext=B_X_TICK_TEXT, tickfont=XFONT,
                minor=dict(tickmode="linear", tick0=199.0, dtick=0.25, **minor_style),
                **axis_common),
    yaxis2=dict(domain=[1 - 1075 / H, 1 - 635 / H], range=[0, 5 * UNIT], anchor="x2",
                tickmode="array", tickvals=[v * UNIT for v in Y_TICKS], ticktext=Y_TICK_TEXT,
                tickfont=YFONT,
                minor=dict(tickmode="linear", tick0=0, dtick=0.5 * UNIT, **minor_style),
                **axis_common),
)

ann = []
for txt, x, y in A_LABELS:
    ann.append(dict(text=txt, x=x, y=y * UNIT, xref="x", yref="y", showarrow=False,
                    xanchor="center", yanchor="middle",
                    font=dict(family=SANS, size=23, color="#111")))
for txt, x, y in B_LABELS:
    ann.append(dict(text=txt, x=x, y=y * UNIT, xref="x2", yref="y2", showarrow=False,
                    xanchor="center", yanchor="middle",
                    font=dict(family=SANS, size=24, color="#111")))

title_font = dict(family=SANS, size=26, color="#222")
centered = dict(xref="paper", yref="paper", showarrow=False, xanchor="center", yanchor="middle")
ann += [
    dict(text="Wavelength (nm)", x=431 / W, y=1 - 555 / H, font=title_font, **centered),
    dict(text="Wavelength (nm)", x=412 / W, y=1 - 1138 / H, font=title_font, **centered),
    dict(text="Cross section (cm<sup>2</sup>)", x=28 / W, y=1 - 249 / H, textangle=-90,
         font=title_font, **centered),
    dict(text="Cross section (cm<sup>2</sup>)", x=28 / W, y=1 - 859 / H, textangle=-90,
         font=title_font, **centered),
    dict(text="(a)", x=362 / W, y=1 - 592 / H,
         font=dict(family=SERIF, size=24, color="#111"), **centered),
    dict(text="(b)", x=362 / W, y=1 - 1174 / H,
         font=dict(family=SERIF, size=24, color="#111"), **centered),
]
fig.update_layout(annotations=ann)

fig.write_html("out.html")
